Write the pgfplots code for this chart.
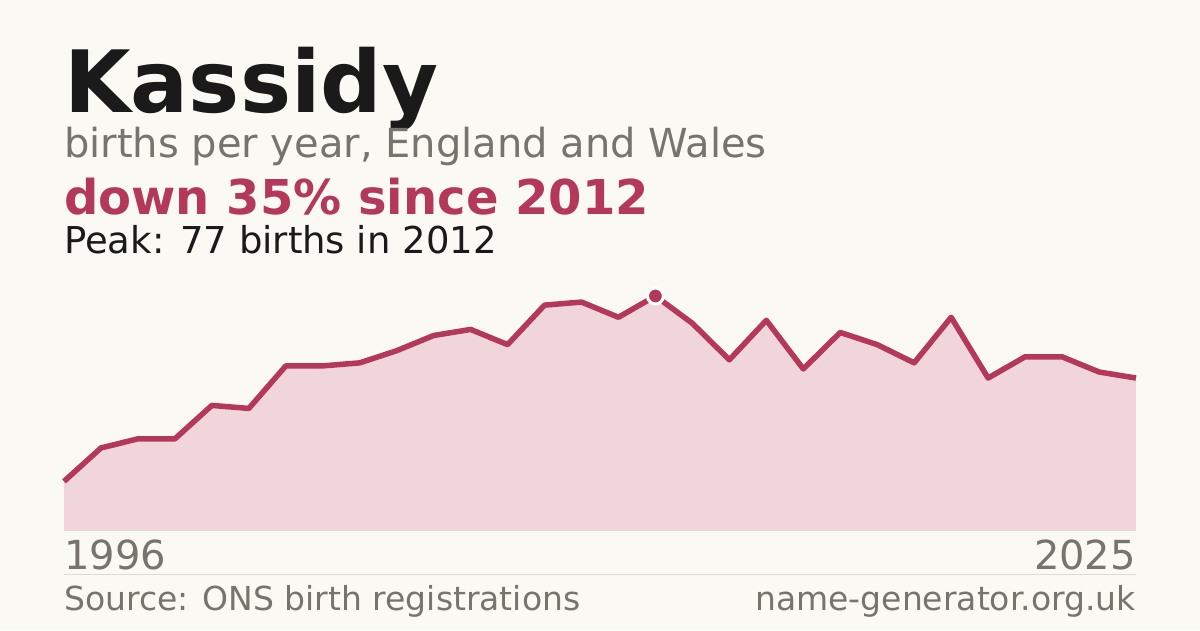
\documentclass[border=0pt]{standalone}
\usepackage{pgfplots}
\pgfplotsset{compat=1.18}
\usepackage{pgfplotstable}
\usepackage{fontspec}
\setmainfont{DejaVu Sans}

\definecolor{bgcol}{HTML}{FAF9F4}
\definecolor{inkcol}{HTML}{1A1A1A}
\definecolor{greycol}{HTML}{78736C}
\definecolor{redcol}{HTML}{B3385A}
\definecolor{fillcol}{HTML}{F0D5DA}
\definecolor{rulecol}{HTML}{DDDAD3}

% births per year
\pgfplotstableread{
year births
1996 16
1997 27
1998 30
1999 30
2000 41
2001 40
2002 54
2003 54
2004 55
2005 59
2006 64
2007 66
2008 61
2009 74
2010 75
2011 70
2012 77
2013 68
2014 56
2015 69
2016 53
2017 65
2018 61
2019 55
2020 70
2021 50
2022 57
2023 57
2024 52
2025 50
}\births

\begin{document}
\begin{tikzpicture}[x=1pt,y=1pt]
	\fill[bgcol] (0,0) rectangle (1200,630);

	% headings
	\node[anchor=base west, inner sep=0, text=inkcol] at (64,517)
		{\fontsize{86}{86}\selectfont\bfseries Kassidy};
	\node[anchor=base west, inner sep=0, text=greycol] at (64,472)
		{\fontsize{40}{40}\selectfont births per year, England and Wales};
	\node[anchor=base west, inner sep=0, text=redcol] at (64,415)
		{\fontsize{48}{48}\selectfont\bfseries down 35\% since 2012};
	\node[anchor=base west, inner sep=0, text=inkcol] at (64,376)
		{\fontsize{37}{37}\selectfont Peak: 77 births in 2012};

	\begin{axis}[
		at={(64pt,100pt)}, anchor=south west,
		scale only axis,
		width=1072pt, height=234pt,
		xmin=1996, xmax=2025,
		ymin=0, ymax=77,
		hide axis,
		clip=false,
		]
		\addplot[fill=fillcol, draw=none] table[x=year, y=births] {\births} \closedcycle;
		\addplot[redcol, line width=5.5pt, line join=round, mark=none] table[x=year, y=births] {\births};
		\addplot[only marks, mark=*, mark size=8pt, mark options={fill=redcol, draw=white, line width=3pt}]
			coordinates {(2012,77)};
	\end{axis}

	% baseline and footer
	\draw[rulecol, line width=1pt] (64,100) -- (1136,100);
	\node[anchor=base west, inner sep=0, text=greycol] at (64,61)
		{\fontsize{40}{40}\selectfont 1996};
	\node[anchor=base east, inner sep=0, text=greycol] at (1136,61)
		{\fontsize{40}{40}\selectfont 2025};
	\draw[rulecol, line width=1pt] (64,56) -- (1136,56);
	\node[anchor=base west, inner sep=0, text=greycol] at (64,20)
		{\fontsize{33}{33}\selectfont Source: ONS birth registrations};
	\node[anchor=base east, inner sep=0, text=greycol] at (1136,20)
		{\fontsize{33}{33}\selectfont name-generator.org.uk};

	\pgfresetboundingbox
	\useasboundingbox (0,0) rectangle (1200,630);
\end{tikzpicture}
\end{document}
